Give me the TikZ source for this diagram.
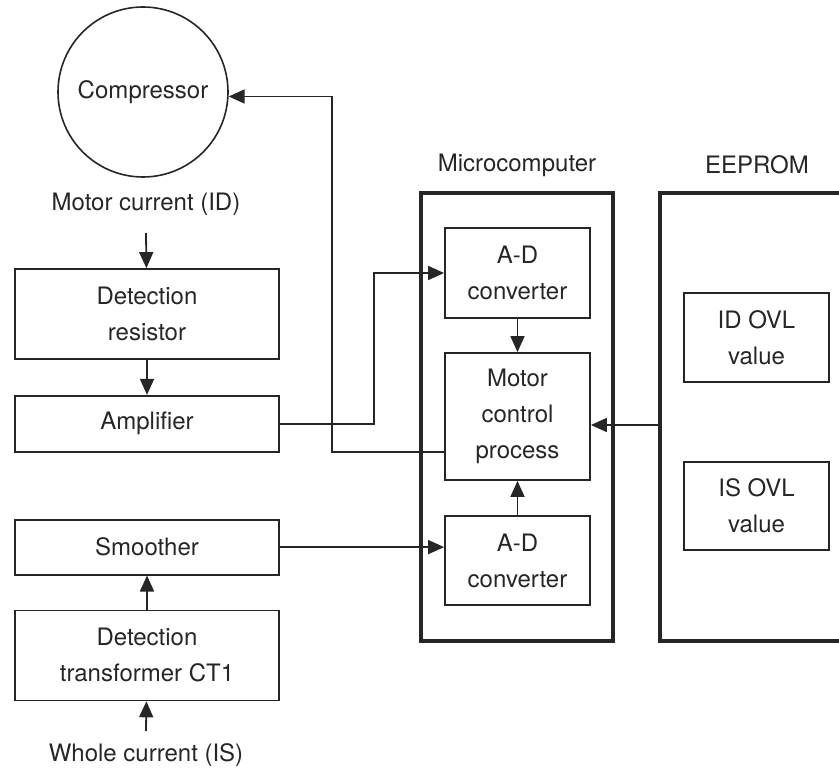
\documentclass[tikz,border=0pt]{standalone}
\usepackage{fontspec}
\setmainfont{TeX Gyre Heros}
\usetikzlibrary{positioning,arrows.meta}
\definecolor{inkgray}{HTML}{262626}
\tikzset{
  blockbox/.style={draw=inkgray, line width=1.8pt, align=center, inner sep=0pt,
    text=inkgray},
  leftbox/.style={blockbox, minimum width=264pt},
  innerbox/.style={blockbox, minimum width=145pt},
  framebox/.style={draw=inkgray, line width=3.4pt, inner sep=0pt},
  sigtext/.style={text=inkgray, inner sep=1pt},
  flow/.style={-{Triangle[length=16pt, width=14pt]}, line width=1.8pt, draw=inkgray},
}

\begin{document}
\begin{tikzpicture}[x=1pt, y=-1pt, font=\fontsize{24}{36}\selectfont]
\useasboundingbox (0,0) rectangle (839,770);
\clip (0,0) rectangle (839,770);
% --- motor current path ---
\node[draw=inkgray, line width=1.6pt, circle, minimum size=170pt, inner sep=0pt, text=inkgray] (comp) at (143,92) {Compressor};
\node[sigtext] (idlbl) at (146,204) {Motor current (ID)};
\coordinate (idin) at (146,233);
\node[leftbox, minimum height=90pt] (detres) at (147,314) {Detection\\resistor};
\node[leftbox, minimum height=56pt, below=35pt of detres] (amp) {Amplifier};
% --- whole current path ---
\node[leftbox, minimum height=55pt, below=66pt of amp] (smooth) {Smoother};
\node[leftbox, minimum height=90pt, below=34pt of smooth] (ct) {Detection\\transformer CT1};
\node[sigtext] (islbl) at (146,755) {Whole current (IS)};
\coordinate (isin) at (146,731);
% --- microcomputer ---
\node[framebox, minimum width=192pt, minimum height=448pt] (micro) at (517,417) {};
\node[sigtext] (microlbl) at (517,165) {Microcomputer};
\node[innerbox, minimum height=90pt] (adone) at (517.5,273) {A-D\\converter};
\node[innerbox, minimum height=127pt] (motor) at (517.5,416.5) {Motor\\control\\process};
\node[innerbox, minimum height=89pt] (adtwo) at (517.5,560.5) {A-D\\converter};
% --- eeprom ---
\node[framebox, minimum width=220pt, minimum height=448pt] (eeprom) at (770,417) {};
\node[sigtext] (eepromlbl) at (757,165) {EEPROM};
\node[innerbox, minimum height=89pt] (idovl) at (756.5,337.5) {ID OVL\\value};
\node[innerbox, minimum height=88pt] (isovl) at (756.5,506) {IS OVL\\value};
% --- flows ---
\draw[flow] (idin) -- (detres);
\draw[flow] (detres) -- (amp);
\draw[flow] (isin) -- (ct);
\draw[flow] (ct) -- (smooth);
\draw[flow] (amp.east) -- ++(94,0) |- (adone.west);
\draw[flow] (smooth.east) -- (smooth.east -| adtwo.west);
\draw[flow] (adone) -- (motor);
\draw[flow] (adtwo) -- (motor);
\draw[flow] ([yshift=-8pt]eeprom.west) -- ([yshift=-8pt]eeprom.west -| motor.east);
\draw[flow] ([yshift=-35.5pt]motor.west) -- ++(-112,0) |- (comp.-3.4);
\end{tikzpicture}
\end{document}
